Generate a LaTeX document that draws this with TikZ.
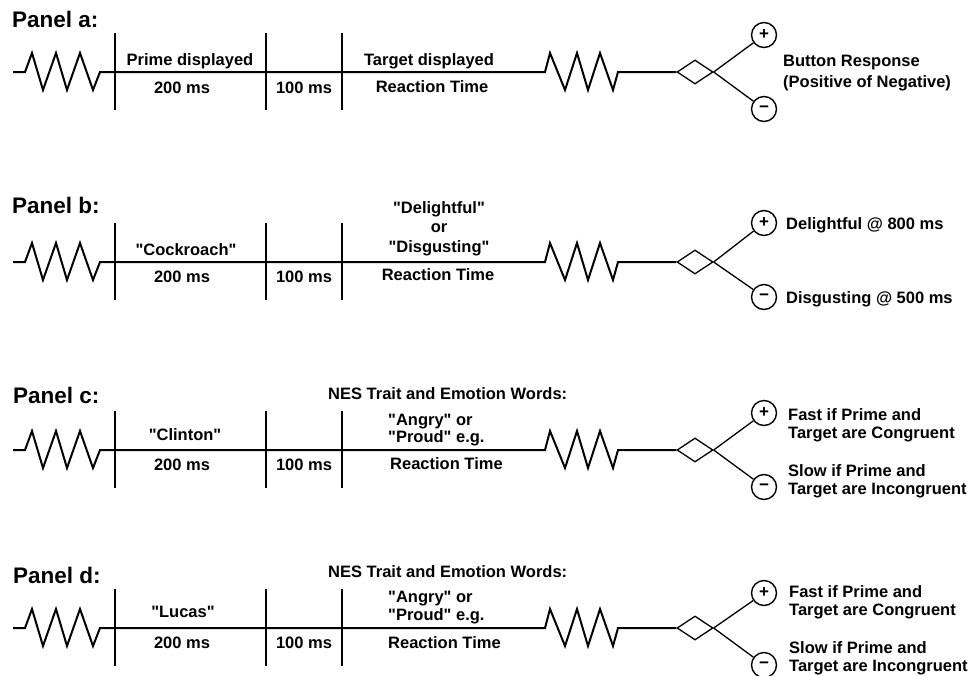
\documentclass[tikz,border=0pt]{standalone}
\usepackage{fontspec}
\setmainfont{Liberation Sans}
\usetikzlibrary{shapes.geometric}
\newcommand\dq{\textquotedbl}
\tikzset{
  mline/.style={line width=2pt, line join=miter},
  barline/.style={line width=2.4pt},
  branch/.style={line width=1.3pt},
  dmd/.style={draw, diamond, line width=1.3pt, minimum width=36pt, minimum height=24pt, inner sep=0pt},
  btn/.style={draw, circle, line width=1.4pt, minimum size=25pt, inner sep=0pt, font=\bfseries\fontsize{17}{17}\selectfont},
  txt/.style={inner sep=0pt, font=\bfseries\fontsize{16.5}{19}\selectfont},
  ptitle/.style={inner sep=0pt, anchor=base west, font=\bfseries\fontsize{22.5}{26}\selectfont},
}
\newcommand\panelrow[4]{%
  \coordinate (#1s) at (13,#2);
  \node[dmd] (#1d) at (695,#2) {};
  \node[btn] (#1p) at (764,#3) {+};
  \node[btn] (#1m) at (764,#4) {−};
  \coordinate (#1b1t) at (115,#2-39); \coordinate (#1b1b) at (115,#2+38);
  \coordinate (#1b2t) at (266,#2-39); \coordinate (#1b2b) at (266,#2+38);
  \coordinate (#1b3t) at (342,#2-39); \coordinate (#1b3b) at (342,#2+38);
  \draw[mline] (#1s) -- ++(12,0) -- ++(7,-19) -- ++(11,37) -- ++(13,-37) -- ++(11,37)
     -- ++(13,-37) -- ++(13,37) -- ++(7,-18) -- (545,#2) -- ++(5,-19) -- ++(15,37)
     -- ++(12,-37) -- ++(11,37) -- ++(12,-37) -- ++(13,37) -- ++(5,-18) -- (#1d.west);
  \draw[barline] (#1b1t) -- (#1b1b);
  \draw[barline] (#1b2t) -- (#1b2b);
  \draw[barline] (#1b3t) -- (#1b3b);
  \draw[branch] (#1d.east) -- (#1p);
  \draw[branch] (#1d.east) -- (#1m);
}
\begin{document}
\begin{tikzpicture}[x=1pt,y=-1pt]
\useasboundingbox[fill=white] (0,0) rectangle (973,675);

% Panel a
\panelrow{a}{72}{35}{109}
\node[ptitle] (at) at (12,27) {Panel a:};
\node[txt, anchor=base] (a1) at (190,65) {Prime displayed};
\node[txt, anchor=base] (a2) at (182,93) {200 ms};
\node[txt, anchor=base] (a3) at (304,93) {100 ms};
\node[txt, anchor=base] (a4) at (429,65) {Target displayed};
\node[txt, anchor=base] (a5) at (432,92) {Reaction Time};
\node[txt, anchor=base west] (a6) at (783,66) {Button Response};
\node[txt, anchor=base west] (a7) at (783,87) {(Positive of Negative)};

% Panel b
\panelrow{b}{262}{223}{297}
\node[ptitle] (bt) at (12,213) {Panel b:};
\node[txt, anchor=base] (b1) at (186,255) {\dq Cockroach\dq};
\node[txt, anchor=base] (b2) at (182,282) {200 ms};
\node[txt, anchor=base] (b3) at (304,282) {100 ms};
\node[txt, anchor=base] (b4) at (439,213) {\dq Delightful\dq};
\node[txt, anchor=base] (b5) at (439,232) {or};
\node[txt, anchor=base] (b6) at (439,252) {\dq Disgusting\dq};
\node[txt, anchor=base] (b7) at (438,280) {Reaction Time};
\node[txt, anchor=base west] (b8) at (786,229) {Delightful @ 800 ms};
\node[txt, anchor=base west] (b9) at (786,303) {Disgusting @ 500 ms};

% Panel c
\panelrow{c}{450}{413}{487}
\node[ptitle] (ct) at (13,403) {Panel c:};
\node[txt, anchor=base] (c1) at (185,440) {\dq Clinton\dq};
\node[txt, anchor=base] (c2) at (182,470) {200 ms};
\node[txt, anchor=base] (c3) at (304,470) {100 ms};
\node[txt, anchor=base west] (c4) at (328,399) {NES Trait and Emotion Words:};
\node[txt, anchor=base west] (c5) at (388,425) {\dq Angry\dq{} or};
\node[txt, anchor=base west] (c6) at (388,442) {\dq Proud\dq{} e.g.};
\node[txt, anchor=base west] (c7) at (390,469) {Reaction Time};
\node[txt, anchor=base west] (c8) at (788,420) {Fast if Prime and};
\node[txt, anchor=base west] (c9) at (788,438) {Target are Congruent};
\node[txt, anchor=base west] (c10) at (788,476) {Slow if Prime and};
\node[txt, anchor=base west] (c11) at (788,494) {Target are Incongruent};

% Panel d
\panelrow{d}{628}{593}{665}
\node[ptitle] (dt) at (13,583) {Panel d:};
\node[txt, anchor=base] (d1) at (183,617) {\dq Lucas\dq};
\node[txt, anchor=base] (d2) at (182,648) {200 ms};
\node[txt, anchor=base] (d3) at (304,648) {100 ms};
\node[txt, anchor=base west] (d4) at (328,577) {NES Trait and Emotion Words:};
\node[txt, anchor=base west] (d5) at (388,602) {\dq Angry\dq{} or};
\node[txt, anchor=base west] (d6) at (388,620) {\dq Proud\dq{} e.g.};
\node[txt, anchor=base west] (d7) at (388,648) {Reaction Time};
\node[txt, anchor=base west] (d8) at (789,597) {Fast if Prime and};
\node[txt, anchor=base west] (d9) at (789,615) {Target are Congruent};
\node[txt, anchor=base west] (d10) at (789,653) {Slow if Prime and};
\node[txt, anchor=base west] (d11) at (789,671) {Target are Incongruent};
\end{tikzpicture}
\end{document}
